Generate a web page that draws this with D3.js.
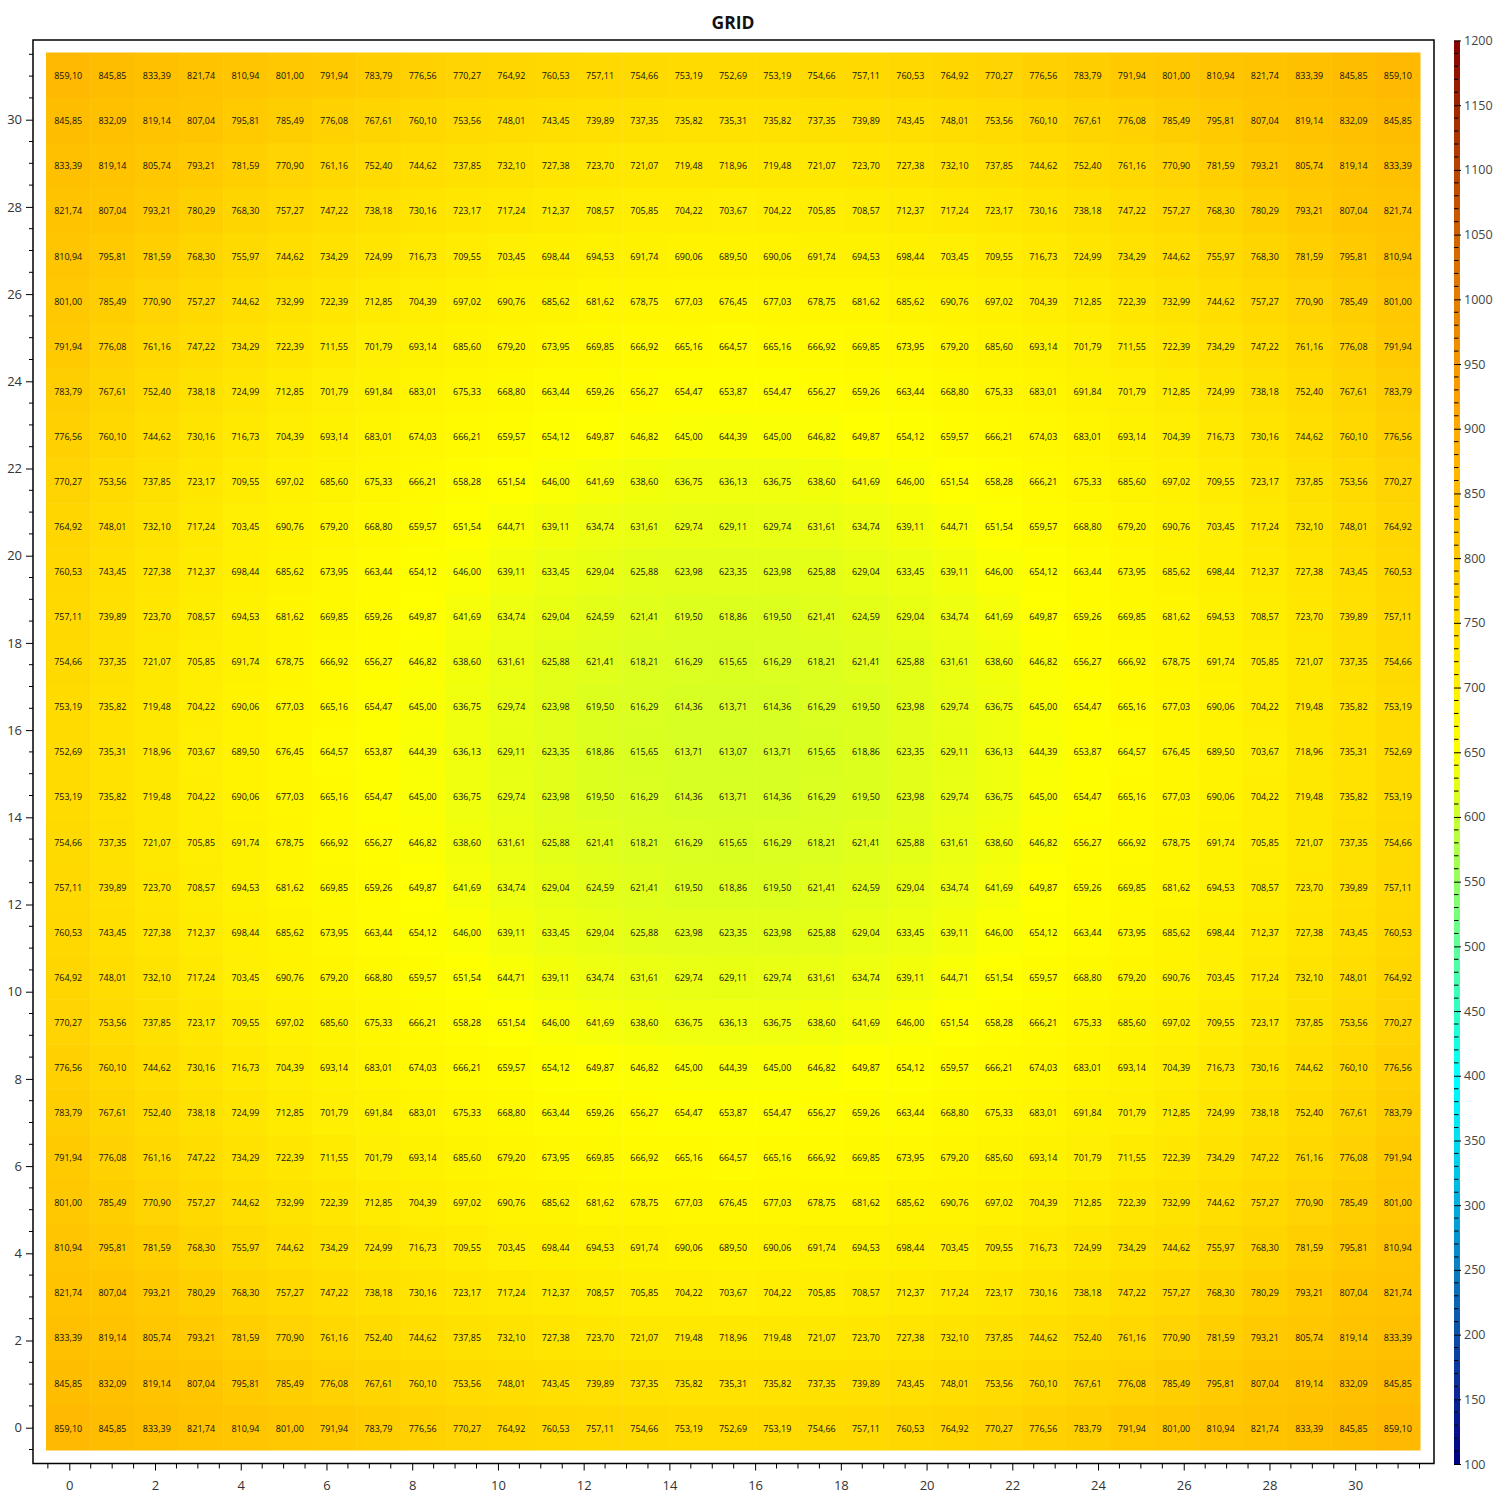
<!DOCTYPE html>
<html><head><meta charset="utf-8">
<script src="https://cdn.jsdelivr.net/npm/d3@7"></script>
<style>body{margin:0;background:#fff;} svg{display:block;}</style>
</head><body>
<svg id="chart" width="1500" height="1500"></svg>
<script>
const chartTitle = "GRID";
const xCategories = d3.range(0, 31);
const yCategories = d3.range(0, 31);
// rows from y=0 (bottom) to y=30 (top)
const gridRows = [
[859.10,845.85,833.39,821.74,810.94,801.00,791.94,783.79,776.56,770.27,764.92,760.53,757.11,754.66,753.19,752.69,753.19,754.66,757.11,760.53,764.92,770.27,776.56,783.79,791.94,801.00,810.94,821.74,833.39,845.85,859.10],
[845.85,832.09,819.14,807.04,795.81,785.49,776.08,767.61,760.10,753.56,748.01,743.45,739.89,737.35,735.82,735.31,735.82,737.35,739.89,743.45,748.01,753.56,760.10,767.61,776.08,785.49,795.81,807.04,819.14,832.09,845.85],
[833.39,819.14,805.74,793.21,781.59,770.90,761.16,752.40,744.62,737.85,732.10,727.38,723.70,721.07,719.48,718.96,719.48,721.07,723.70,727.38,732.10,737.85,744.62,752.40,761.16,770.90,781.59,793.21,805.74,819.14,833.39],
[821.74,807.04,793.21,780.29,768.30,757.27,747.22,738.18,730.16,723.17,717.24,712.37,708.57,705.85,704.22,703.67,704.22,705.85,708.57,712.37,717.24,723.17,730.16,738.18,747.22,757.27,768.30,780.29,793.21,807.04,821.74],
[810.94,795.81,781.59,768.30,755.97,744.62,734.29,724.99,716.73,709.55,703.45,698.44,694.53,691.74,690.06,689.50,690.06,691.74,694.53,698.44,703.45,709.55,716.73,724.99,734.29,744.62,755.97,768.30,781.59,795.81,810.94],
[801.00,785.49,770.90,757.27,744.62,732.99,722.39,712.85,704.39,697.02,690.76,685.62,681.62,678.75,677.03,676.45,677.03,678.75,681.62,685.62,690.76,697.02,704.39,712.85,722.39,732.99,744.62,757.27,770.90,785.49,801.00],
[791.94,776.08,761.16,747.22,734.29,722.39,711.55,701.79,693.14,685.60,679.20,673.95,669.85,666.92,665.16,664.57,665.16,666.92,669.85,673.95,679.20,685.60,693.14,701.79,711.55,722.39,734.29,747.22,761.16,776.08,791.94],
[783.79,767.61,752.40,738.18,724.99,712.85,701.79,691.84,683.01,675.33,668.80,663.44,659.26,656.27,654.47,653.87,654.47,656.27,659.26,663.44,668.80,675.33,683.01,691.84,701.79,712.85,724.99,738.18,752.40,767.61,783.79],
[776.56,760.10,744.62,730.16,716.73,704.39,693.14,683.01,674.03,666.21,659.57,654.12,649.87,646.82,645.00,644.39,645.00,646.82,649.87,654.12,659.57,666.21,674.03,683.01,693.14,704.39,716.73,730.16,744.62,760.10,776.56],
[770.27,753.56,737.85,723.17,709.55,697.02,685.60,675.33,666.21,658.28,651.54,646.00,641.69,638.60,636.75,636.13,636.75,638.60,641.69,646.00,651.54,658.28,666.21,675.33,685.60,697.02,709.55,723.17,737.85,753.56,770.27],
[764.92,748.01,732.10,717.24,703.45,690.76,679.20,668.80,659.57,651.54,644.71,639.11,634.74,631.61,629.74,629.11,629.74,631.61,634.74,639.11,644.71,651.54,659.57,668.80,679.20,690.76,703.45,717.24,732.10,748.01,764.92],
[760.53,743.45,727.38,712.37,698.44,685.62,673.95,663.44,654.12,646.00,639.11,633.45,629.04,625.88,623.98,623.35,623.98,625.88,629.04,633.45,639.11,646.00,654.12,663.44,673.95,685.62,698.44,712.37,727.38,743.45,760.53],
[757.11,739.89,723.70,708.57,694.53,681.62,669.85,659.26,649.87,641.69,634.74,629.04,624.59,621.41,619.50,618.86,619.50,621.41,624.59,629.04,634.74,641.69,649.87,659.26,669.85,681.62,694.53,708.57,723.70,739.89,757.11],
[754.66,737.35,721.07,705.85,691.74,678.75,666.92,656.27,646.82,638.60,631.61,625.88,621.41,618.21,616.29,615.65,616.29,618.21,621.41,625.88,631.61,638.60,646.82,656.27,666.92,678.75,691.74,705.85,721.07,737.35,754.66],
[753.19,735.82,719.48,704.22,690.06,677.03,665.16,654.47,645.00,636.75,629.74,623.98,619.50,616.29,614.36,613.71,614.36,616.29,619.50,623.98,629.74,636.75,645.00,654.47,665.16,677.03,690.06,704.22,719.48,735.82,753.19],
[752.69,735.31,718.96,703.67,689.50,676.45,664.57,653.87,644.39,636.13,629.11,623.35,618.86,615.65,613.71,613.07,613.71,615.65,618.86,623.35,629.11,636.13,644.39,653.87,664.57,676.45,689.50,703.67,718.96,735.31,752.69],
[753.19,735.82,719.48,704.22,690.06,677.03,665.16,654.47,645.00,636.75,629.74,623.98,619.50,616.29,614.36,613.71,614.36,616.29,619.50,623.98,629.74,636.75,645.00,654.47,665.16,677.03,690.06,704.22,719.48,735.82,753.19],
[754.66,737.35,721.07,705.85,691.74,678.75,666.92,656.27,646.82,638.60,631.61,625.88,621.41,618.21,616.29,615.65,616.29,618.21,621.41,625.88,631.61,638.60,646.82,656.27,666.92,678.75,691.74,705.85,721.07,737.35,754.66],
[757.11,739.89,723.70,708.57,694.53,681.62,669.85,659.26,649.87,641.69,634.74,629.04,624.59,621.41,619.50,618.86,619.50,621.41,624.59,629.04,634.74,641.69,649.87,659.26,669.85,681.62,694.53,708.57,723.70,739.89,757.11],
[760.53,743.45,727.38,712.37,698.44,685.62,673.95,663.44,654.12,646.00,639.11,633.45,629.04,625.88,623.98,623.35,623.98,625.88,629.04,633.45,639.11,646.00,654.12,663.44,673.95,685.62,698.44,712.37,727.38,743.45,760.53],
[764.92,748.01,732.10,717.24,703.45,690.76,679.20,668.80,659.57,651.54,644.71,639.11,634.74,631.61,629.74,629.11,629.74,631.61,634.74,639.11,644.71,651.54,659.57,668.80,679.20,690.76,703.45,717.24,732.10,748.01,764.92],
[770.27,753.56,737.85,723.17,709.55,697.02,685.60,675.33,666.21,658.28,651.54,646.00,641.69,638.60,636.75,636.13,636.75,638.60,641.69,646.00,651.54,658.28,666.21,675.33,685.60,697.02,709.55,723.17,737.85,753.56,770.27],
[776.56,760.10,744.62,730.16,716.73,704.39,693.14,683.01,674.03,666.21,659.57,654.12,649.87,646.82,645.00,644.39,645.00,646.82,649.87,654.12,659.57,666.21,674.03,683.01,693.14,704.39,716.73,730.16,744.62,760.10,776.56],
[783.79,767.61,752.40,738.18,724.99,712.85,701.79,691.84,683.01,675.33,668.80,663.44,659.26,656.27,654.47,653.87,654.47,656.27,659.26,663.44,668.80,675.33,683.01,691.84,701.79,712.85,724.99,738.18,752.40,767.61,783.79],
[791.94,776.08,761.16,747.22,734.29,722.39,711.55,701.79,693.14,685.60,679.20,673.95,669.85,666.92,665.16,664.57,665.16,666.92,669.85,673.95,679.20,685.60,693.14,701.79,711.55,722.39,734.29,747.22,761.16,776.08,791.94],
[801.00,785.49,770.90,757.27,744.62,732.99,722.39,712.85,704.39,697.02,690.76,685.62,681.62,678.75,677.03,676.45,677.03,678.75,681.62,685.62,690.76,697.02,704.39,712.85,722.39,732.99,744.62,757.27,770.90,785.49,801.00],
[810.94,795.81,781.59,768.30,755.97,744.62,734.29,724.99,716.73,709.55,703.45,698.44,694.53,691.74,690.06,689.50,690.06,691.74,694.53,698.44,703.45,709.55,716.73,724.99,734.29,744.62,755.97,768.30,781.59,795.81,810.94],
[821.74,807.04,793.21,780.29,768.30,757.27,747.22,738.18,730.16,723.17,717.24,712.37,708.57,705.85,704.22,703.67,704.22,705.85,708.57,712.37,717.24,723.17,730.16,738.18,747.22,757.27,768.30,780.29,793.21,807.04,821.74],
[833.39,819.14,805.74,793.21,781.59,770.90,761.16,752.40,744.62,737.85,732.10,727.38,723.70,721.07,719.48,718.96,719.48,721.07,723.70,727.38,732.10,737.85,744.62,752.40,761.16,770.90,781.59,793.21,805.74,819.14,833.39],
[845.85,832.09,819.14,807.04,795.81,785.49,776.08,767.61,760.10,753.56,748.01,743.45,739.89,737.35,735.82,735.31,735.82,737.35,739.89,743.45,748.01,753.56,760.10,767.61,776.08,785.49,795.81,807.04,819.14,832.09,845.85],
[859.10,845.85,833.39,821.74,810.94,801.00,791.94,783.79,776.56,770.27,764.92,760.53,757.11,754.66,753.19,752.69,753.19,754.66,757.11,760.53,764.92,770.27,776.56,783.79,791.94,801.00,810.94,821.74,833.39,845.85,859.10]
];
const axisTicks = d3.range(0, 31, 2);
const colorTicks = d3.range(100, 1201, 50);
const colorDomain = [100, 1200];
const colorStopValues = [100,150,200,250,300,350,400,450,500,550,600,650,700,750,800,850,900,950,1000,1050,1100,1150,1200];
const colorStopColors = ["#000080","#0a2496","#0c4ea8","#0a7cc0","#00aedc","#00def0","#00ffff","#30ffc4","#5cff98","#94ff60","#c8ff30","#ffff00","#fff000","#ffdc00","#ffc800","#ffbc00","#ffaa00","#f49800","#e47e00","#cf6200","#b84400","#a02600","#880000"];

const svg = d3.select("#chart");
const font = "'Open Sans', 'Noto Sans', sans-serif";
const color = d3.scaleLinear().domain(colorStopValues).range(colorStopColors).clamp(true);
const fmt = v => d3.format(".2f")(v).replace(".", ",");

// heatmap cell bands
const xBand = d3.scaleBand().domain(xCategories).range([46, 1420]);
const yBand = d3.scaleBand().domain(yCategories).range([1450, 52.5]);
// axis scales
const xAxisScale = d3.scaleLinear().domain([0, 30]).range([69.3, 1355.2]);
const yAxisScale = d3.scaleLinear().domain([0, 30]).range([1427.7, 119.7]);

// title
svg.append("text").attr("x", 733).attr("y", 28.5).attr("text-anchor", "middle")
  .attr("font-family", font).attr("font-weight", "bold").attr("font-size", 17.5)
  .attr("fill", "#111").text(chartTitle);

// cells
const cells = [];
gridRows.forEach((row, yi) => row.forEach((v, xi) => cells.push({x: xCategories[xi], y: yCategories[yi], v})));
const gCells = svg.append("g");
gCells.selectAll("rect").data(cells).join("rect")
  .attr("x", d => xBand(d.x)).attr("y", d => yBand(d.y))
  .attr("width", xBand.bandwidth() + 0.5).attr("height", yBand.bandwidth() + 0.5)
  .attr("fill", d => color(d.v));
gCells.selectAll("text").data(cells).join("text")
  .attr("x", d => xBand(d.x) + xBand.bandwidth() / 2)
  .attr("y", d => yBand(d.y) + yBand.bandwidth() / 2 + 1)
  .attr("dy", "0.35em").attr("text-anchor", "middle")
  .attr("font-family", font).attr("font-size", 9).attr("fill", "#111")
  .text(d => fmt(d.v));

// frame
svg.append("rect").attr("x", 33).attr("y", 40).attr("width", 1401).attr("height", 1423.5)
  .attr("fill", "none").attr("stroke", "#000").attr("stroke-width", 1.5);

// minor ticks
const minorVals = d3.range(-0.5, 31.51, 0.5).filter(v => !(v % 2 === 0 && v <= 30));
const gx = svg.append("g").attr("transform", "translate(0,1463.5)");
gx.call(d3.axisBottom(xAxisScale).tickValues(axisTicks).tickFormat(d3.format("d")).tickSize(7).tickPadding(10).tickSizeOuter(0));
gx.selectAll(".minor").data(minorVals).join("line").attr("class", "minor")
  .attr("x1", d => xAxisScale(d)).attr("x2", d => xAxisScale(d)).attr("y1", 0).attr("y2", 5)
  .attr("stroke", "#000");
const gy = svg.append("g").attr("transform", "translate(33,0)");
gy.call(d3.axisLeft(yAxisScale).tickValues(axisTicks).tickFormat(d3.format("d")).tickSize(7).tickPadding(4).tickSizeOuter(0));
gy.selectAll(".minor").data(minorVals).join("line").attr("class", "minor")
  .attr("y1", d => yAxisScale(d)).attr("y2", d => yAxisScale(d)).attr("x1", 0).attr("x2", -4)
  .attr("stroke", "#000");
[gx, gy].forEach(g => {
  g.select(".domain").remove();
  g.selectAll(".tick line").attr("stroke", "#000");
  g.selectAll(".tick text").attr("font-family", font).attr("font-size", 13).attr("fill", "#333");
});

// colorbar
const cScale = d3.scaleLinear().domain(colorDomain).range([1464, 40.5]);
const cb = svg.append("g");
const steps = d3.range(100, 1200, 10);
cb.selectAll("rect").data(steps).join("rect")
  .attr("x", 1454).attr("width", 6)
  .attr("y", d => cScale(d + 10)).attr("height", d => cScale(d) - cScale(d + 10) + 0.3)
  .attr("fill", d => color(d + 5));
cb.selectAll(".mn").data(d3.range(100, 1201, 10).filter(v => v % 50 !== 0)).join("line").attr("class", "mn")
  .attr("x1", 1454).attr("x2", 1458.5).attr("y1", d => cScale(d)).attr("y2", d => cScale(d))
  .attr("stroke", "#000");
const gc = svg.append("g").attr("transform", "translate(1454,0)");
gc.call(d3.axisRight(cScale).tickValues(colorTicks).tickFormat(d3.format("d")).tickSize(7).tickPadding(3).tickSizeOuter(0));
gc.select(".domain").remove();
gc.selectAll(".tick line").attr("stroke", "#000");
gc.selectAll(".tick text").attr("font-family", font).attr("font-size", 12.5).attr("fill", "#444");
</script>
</body></html>
